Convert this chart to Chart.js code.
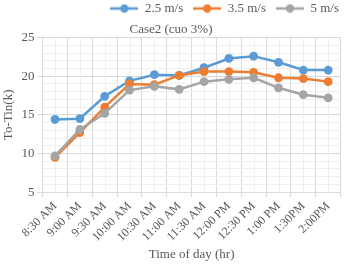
<!DOCTYPE html>
<html><head><meta charset="utf-8">
<script src="https://cdn.jsdelivr.net/npm/chart.js@4/dist/chart.umd.min.js"></script>
<style>html,body{margin:0;padding:0;background:#fff}#wrap{width:345px;height:266px}</style>
</head><body><div id="wrap"><canvas id="c" width="345" height="266"></canvas></div>
<script>
const categories = ['8:30 AM','9:00 AM','9:30 AM','10:00 AM','10:30 AM','11:00 AM','11:30 AM','12:00 PM','12:30 PM','1:00 PM','1:30PM','2:00PM'];
const seriesNames = ['2.5 m/s','3.5 m/s','5 m/s'];
const v25 = [14.4, 14.5, 17.4, 19.4, 20.2, 20.1, 21.1, 22.3, 22.6, 21.8, 20.8, 20.8];
const v35 = [9.5, 12.7, 16.0, 19.0, 18.9, 20.1, 20.6, 20.6, 20.5, 19.8, 19.7, 19.3];
const v5  = [9.7, 13.1, 15.2, 18.2, 18.7, 18.3, 19.3, 19.6, 19.8, 18.5, 17.6, 17.2];
const yTicks = [5, 10, 15, 20, 25];

const colors = ['#5B9BD5', '#ED7D31', '#A5A5A5'];
const FONT = '"Liberation Serif", "Times New Roman", serif';
const TXT = '#595959';

function legendIcon(color) {
  const c = document.createElement('canvas');
  c.width = 28; c.height = 10;
  const g = c.getContext('2d');
  g.strokeStyle = color; g.lineWidth = 2.5;
  g.beginPath(); g.moveTo(0, 5); g.lineTo(28, 5); g.stroke();
  g.fillStyle = color;
  g.beginPath(); g.arc(14, 5, 4.2, 0, Math.PI * 2); g.fill();
  return c;
}
const icons = colors.map(legendIcon);

const minorGrid = {
  id: 'minorGrid',
  afterLayout(chart) {
    if (chart.legend) { chart.legend.left += 7; chart.legend.right += 7; }
  },
  beforeDatasetsDraw(chart) {
    const x = chart.scales.x, a = chart.chartArea, ctx = chart.ctx;
    ctx.save();
    ctx.strokeStyle = '#efefef'; ctx.lineWidth = 1;
    categories.forEach((c, i) => {
      const px = Math.round(x.getPixelForValue(i)) + 0.5;
      ctx.beginPath(); ctx.moveTo(px, a.top); ctx.lineTo(px, a.bottom); ctx.stroke();
    });
    ctx.restore();
  }
};

const ds = [v25, v35, v5].map((d, i) => ({
  label: seriesNames[i], data: d,
  borderColor: colors[i], backgroundColor: colors[i],
  borderWidth: 2.5, pointRadius: 4.4, pointHoverRadius: 4.4,
  pointBackgroundColor: colors[i], pointBorderColor: colors[i], pointBorderWidth: 0,
  tension: 0, order: 3 - i
}));

new Chart(document.getElementById('c'), {
  type: 'line',
  data: { labels: categories, datasets: ds },
  plugins: [minorGrid],
  options: {
    responsive: false, animation: false, devicePixelRatio: 1,
    layout: { padding: { left: 0, right: 3, top: -8, bottom: 4 } },
    plugins: {
      legend: {
        position: 'top', align: 'end', weight: 3000,
        labels: {
          font: { family: FONT, size: 13 }, color: TXT,
          usePointStyle: true, pointStyleWidth: 28, boxHeight: 10, padding: 10,
          generateLabels(chart) {
            return chart.data.datasets.map((d, i) => ({
              text: d.label, pointStyle: icons[i], fillStyle: colors[i], strokeStyle: colors[i],
              lineWidth: 0, hidden: false, datasetIndex: i, fontColor: TXT
            }));
          }
        }
      },
      title: {
        display: true, text: 'Case2 (cuo 3%)', color: TXT,
        font: { family: FONT, size: 13, weight: 'normal' }, padding: { top: -3, bottom: 0 }
      },
      tooltip: { enabled: false }
    },
    scales: {
      x: {
        type: 'category', offset: true,
        grid: { offset: true, color: '#d9d9d9', tickLength: 5, tickColor: '#d9d9d9' },
        border: { color: '#d9d9d9' },
        ticks: { color: TXT, font: { family: FONT, size: 12 }, maxRotation: 45, minRotation: 45, autoSkip: false, padding: 2 },
        title: { display: true, text: 'Time of day (hr)', color: TXT, font: { family: FONT, size: 13 }, padding: { top: 0, bottom: 0 } }
      },
      y: {
        min: 5, max: 25,
        afterBuildTicks(s) { const t = []; for (let v = 5; v <= 25; v++) t.push({ value: v }); s.ticks = t; },
        grid: {
          color: c => (yTicks.includes(c.tick.value) ? '#d9d9d9' : '#efefef'),
          tickColor: c => (yTicks.includes(c.tick.value) ? '#d9d9d9' : 'rgba(0,0,0,0)'),
          tickLength: 5
        },
        border: { color: '#d9d9d9' },
        ticks: {
          autoSkip: false, color: TXT, font: { family: FONT, size: 13 }, padding: 3,
          callback: v => (yTicks.includes(v) ? String(v) : '')
        },
        title: { display: true, text: 'To-Tin(k)', color: TXT, font: { family: FONT, size: 13 }, padding: { top: 1, bottom: 2 } }
      }
    }
  }
});
</script></body></html>
